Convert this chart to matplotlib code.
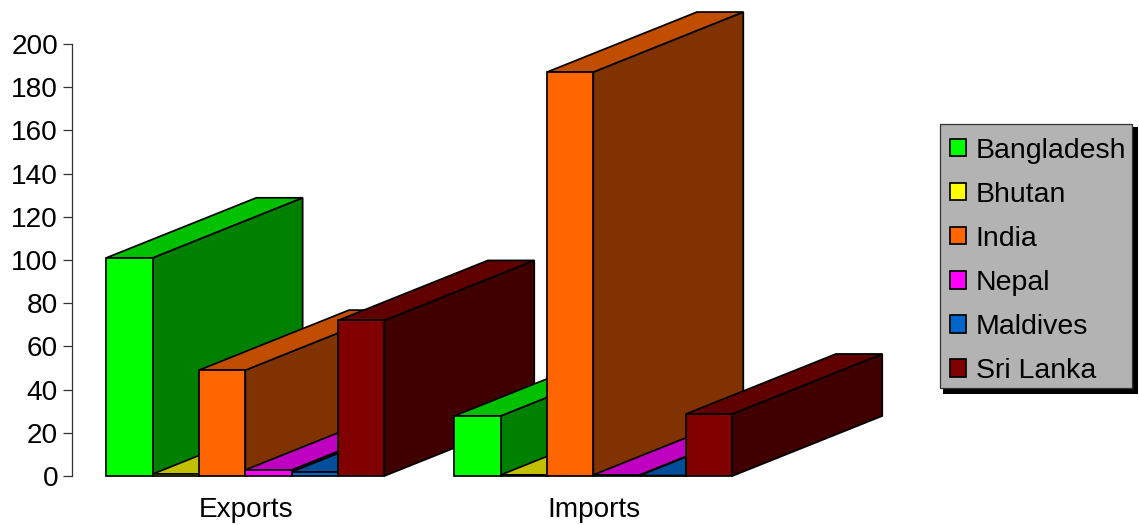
import numpy as np
import matplotlib
matplotlib.use('Agg')
import matplotlib.pyplot as plt
from matplotlib.patches import Polygon, Patch, Rectangle

plt.rcParams['font.family'] = ['Liberation Sans', 'DejaVu Sans']

groups = ['Exports', 'Imports']
countries = ['Bangladesh', 'Bhutan', 'India', 'Nepal', 'Maldives', 'Sri Lanka']
exports = [101, 0.9, 49, 2.8, 1.9, 72]
imports = [27.8, 0.5, 187, 0.5, 0.2, 28.7]
yticks = list(range(0, 201, 20))

front_colors = ['#00ff00', '#ffff00', '#ff6600', '#ff00ff', '#0066cc', '#800000']
top_colors = ['#00c000', '#c0c000', '#c04d00', '#c000c0', '#004d99', '#600000']
side_colors = ['#008000', '#808000', '#803300', '#800080', '#003366', '#400000']

W, H = 1139, 525
fig = plt.figure(figsize=(W / 100, H / 100), dpi=100)
ax = fig.add_axes([72 / W, (H - 476) / H, 696 / W, 432 / H])
ax.set_xlim(0, 2)
ax.set_ylim(0, 200)

# fake 3d depth, in data units
bar_w = 0.1331
dx = 0.431
dy = 27.8
lw = 1.25


def draw_bar(x, v, i):
    side = [(x + bar_w, 0), (x + bar_w + dx, dy), (x + bar_w + dx, v + dy), (x + bar_w, v)]
    top = [(x, v), (x + dx, v + dy), (x + bar_w + dx, v + dy), (x + bar_w, v)]
    front = [(x, 0), (x + bar_w, 0), (x + bar_w, v), (x, v)]
    for pts, col in [(side, side_colors[i]), (top, top_colors[i]), (front, front_colors[i])]:
        ax.add_patch(Polygon(pts, closed=True, facecolor=col, edgecolor='black',
                             linewidth=lw, joinstyle='miter', clip_on=False))


for g, vals in enumerate([exports, imports]):
    start = g + 0.498 - bar_w * len(vals) / 2
    for i, v in enumerate(vals):
        draw_bar(start + i * bar_w, v, i)

for s in ['top', 'right', 'bottom']:
    ax.spines[s].set_visible(False)
ax.spines['left'].set_linewidth(0.9)
ax.spines['left'].set_color('#333333')
ax.set_yticks(yticks)
ax.set_xticks([0.5, 1.5])
ax.set_xticklabels(groups)
ax.tick_params(axis='y', labelsize=20.2, length=6.5, width=0.9, pad=3.5, color='#333333')
ax.tick_params(axis='x', labelsize=20.2, length=0, pad=15)

# legend frame and its hard shadow
fig.add_artist(Rectangle((943 / W, (H - 394) / H), 195 / W, 267 / H, facecolor='black',
                         edgecolor='none', transform=fig.transFigure, zorder=1))
fig.add_artist(Rectangle((939.5 / W, (H - 387.5) / H), 192 / W, 264 / H, facecolor='#b3b3b3',
                         edgecolor='#333333', linewidth=0.9, transform=fig.transFigure, zorder=2))

handles = [Patch(facecolor=c, edgecolor='black', linewidth=1.25) for c in front_colors]
fig.legend(handles, countries, loc='upper left',
           bbox_to_anchor=(949.5 / W, (H - 137.5) / H),
           borderaxespad=0, borderpad=0, fontsize=20.5, handlelength=0.58, handleheight=0.58,
           handletextpad=0.34, labelspacing=0.635, frameon=False)

fig.savefig('out.png', dpi=100)
